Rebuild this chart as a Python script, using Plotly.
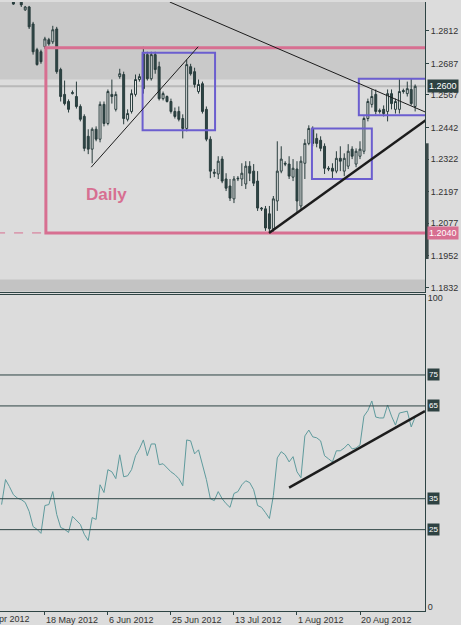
import plotly.graph_objects as go

# ---------------- data ----------------
bar_index = list(range(-11, 95))   # bar positions (Sunday bars included, MT4 style)

opens = [1.3010, 1.3000, 1.3015, 1.2960, 1.2941, 1.2933, 1.2892, 1.2903, 1.2838, 1.2740, 1.2732,
         1.2751, 1.2778, 1.2770, 1.2819, 1.2664, 1.2569, 1.2542, 1.2572, 1.2561, 1.2523,
         1.2485, 1.2409, 1.2360, 1.2436, 1.2398, 1.2531, 1.2458, 1.2569, 1.2512, 1.2637,
         1.2645, 1.2474, 1.2504, 1.2569, 1.2626, 1.2724, 1.2721, 1.2629, 1.2721, 1.2675,
         1.2553, 1.2561, 1.2542, 1.2504, 1.2504, 1.2477, 1.2439, 1.2675, 1.2656, 1.2580,
         1.2610, 1.2512, 1.2398, 1.2272, 1.2265, 1.2322, 1.2246, 1.2219, 1.2170, 1.2249,
         1.2246, 1.2227, 1.2295, 1.2276, 1.2238, 1.2135, 1.2132, 1.2113, 1.2056, 1.2162,
         1.2276, 1.2306, 1.2303, 1.2253, 1.2284, 1.2143, 1.2306, 1.2382, 1.2436, 1.2401,
         1.2394, 1.2371, 1.2287, 1.2287, 1.2276, 1.2325, 1.2276, 1.2295, 1.2360, 1.2303,
         1.2333, 1.2352, 1.2477, 1.2531, 1.2569, 1.2508, 1.2512, 1.2504, 1.2572, 1.2512,
         1.2512, 1.2584, 1.2572, 1.2588, 1.2523]
highs = [1.3030, 1.3025, 1.3020, 1.2975, 1.3006, 1.2945, 1.2907, 1.2907, 1.2846, 1.2747, 1.2740,
         1.2789, 1.2785, 1.2831, 1.2827, 1.2671, 1.2622, 1.2550, 1.2584, 1.2618, 1.2531,
         1.2493, 1.2436, 1.2443, 1.2447, 1.2542, 1.2542, 1.2588, 1.2626, 1.2580, 1.2667,
         1.2656, 1.2512, 1.2588, 1.2645, 1.2648, 1.2751, 1.2732, 1.2732, 1.2732, 1.2694,
         1.2580, 1.2565, 1.2553, 1.2519, 1.2523, 1.2493, 1.2702, 1.2686, 1.2671, 1.2626,
         1.2618, 1.2523, 1.2409, 1.2284, 1.2333, 1.2333, 1.2268, 1.2246, 1.2257, 1.2257,
         1.2306, 1.2314, 1.2314, 1.2303, 1.2276, 1.2139, 1.2143, 1.2143, 1.2181, 1.2390,
         1.2371, 1.2314, 1.2333, 1.2322, 1.2314, 1.2333, 1.2398, 1.2451, 1.2447, 1.2420,
         1.2409, 1.2382, 1.2295, 1.2306, 1.2352, 1.2371, 1.2344, 1.2379, 1.2371, 1.2363,
         1.2390, 1.2485, 1.2553, 1.2588, 1.2588, 1.2515, 1.2527, 1.2588, 1.2588, 1.2553,
         1.2629, 1.2591, 1.2618, 1.2629, 1.2607]
lows = [1.2990, 1.2985, 1.2965, 1.2911, 1.2933, 1.2903, 1.2888, 1.2819, 1.2721, 1.2679, 1.2686,
        1.2743, 1.2755, 1.2762, 1.2648, 1.2542, 1.2527, 1.2500, 1.2569, 1.2515, 1.2466,
        1.2352, 1.2341, 1.2306, 1.2390, 1.2386, 1.2447, 1.2451, 1.2534, 1.2504, 1.2629,
        1.2455, 1.2466, 1.2496, 1.2561, 1.2618, 1.2572, 1.2622, 1.2622, 1.2648, 1.2546,
        1.2546, 1.2538, 1.2496, 1.2477, 1.2466, 1.2401, 1.2428, 1.2641, 1.2595, 1.2572,
        1.2496, 1.2390, 1.2249, 1.2253, 1.2246, 1.2230, 1.2200, 1.2162, 1.2154, 1.2238,
        1.2219, 1.2208, 1.2238, 1.2219, 1.2124, 1.2124, 1.2048, 1.2037, 1.2044, 1.2124,
        1.2268, 1.2295, 1.2246, 1.2238, 1.2116, 1.2132, 1.2246, 1.2375, 1.2371, 1.2367,
        1.2352, 1.2265, 1.2276, 1.2246, 1.2268, 1.2276, 1.2257, 1.2284, 1.2322, 1.2291,
        1.2322, 1.2341, 1.2466, 1.2519, 1.2493, 1.2496, 1.2485, 1.2466, 1.2512, 1.2496,
        1.2496, 1.2572, 1.2561, 1.2527, 1.2504]
closes = [1.3000, 1.3015, 1.2975, 1.2914, 1.2990, 1.2911, 1.2903, 1.2827, 1.2732, 1.2683, 1.2694,
          1.2781, 1.2762, 1.2816, 1.2656, 1.2561, 1.2534, 1.2512, 1.2576, 1.2523, 1.2474,
          1.2363, 1.2360, 1.2436, 1.2398, 1.2531, 1.2458, 1.2580, 1.2561, 1.2569, 1.2648,
          1.2477, 1.2496, 1.2572, 1.2626, 1.2637, 1.2591, 1.2629, 1.2721, 1.2664, 1.2553,
          1.2572, 1.2542, 1.2504, 1.2485, 1.2474, 1.2439, 1.2683, 1.2648, 1.2607, 1.2607,
          1.2504, 1.2398, 1.2276, 1.2268, 1.2314, 1.2238, 1.2211, 1.2173, 1.2246, 1.2247,
          1.2268, 1.2295, 1.2268, 1.2230, 1.2135, 1.2132, 1.2059, 1.2056, 1.2170, 1.2276,
          1.2322, 1.2303, 1.2257, 1.2287, 1.2162, 1.2314, 1.2382, 1.2439, 1.2382, 1.2382,
          1.2363, 1.2287, 1.2284, 1.2276, 1.2325, 1.2314, 1.2325, 1.2352, 1.2333, 1.2352,
          1.2360, 1.2477, 1.2542, 1.2561, 1.2504, 1.2504, 1.2496, 1.2572, 1.2534, 1.2542,
          1.2580, 1.2580, 1.2591, 1.2534, 1.2600]

rsi = [33.1, 41.2, 38.9, 36.3, 35.2, 34.7, 33.8, 30.9, 26.0, 25.1, 23.8,
       32.8, 33.1, 37.3, 29.9, 25.7, 25.1, 24.1, 29.3, 28.0, 26.7,
       23.5, 21.5, 28.9, 28.3, 39.5, 37.0, 44.4, 43.7, 41.5, 49.2,
       42.1, 42.4, 44.4, 48.9, 51.1, 54.0, 48.9, 52.7, 52.7, 46.0,
       46.3, 45.0, 43.7, 42.8, 41.5, 39.2, 54.0, 53.7, 49.5, 50.8,
       45.7, 41.2, 35.0, 34.4, 37.3, 35.0, 33.4, 32.2, 36.7, 37.3,
       39.5, 40.8, 40.2, 37.9, 32.8, 32.2, 30.5, 28.6, 36.0, 48.2,
       50.2, 49.2, 46.9, 48.6, 43.7, 41.8, 55.3, 57.2, 55.0, 54.7,
       53.7, 48.9, 47.9, 46.9, 50.5, 50.5, 51.4, 52.7, 51.1, 51.4,
       52.4, 61.7, 63.5, 66.6, 61.4, 61.1, 61.1, 65.3, 61.7, 58.8,
       62.7, 63.0, 63.3, 58.2, 61.4]

date_tick_pos = [0, 16, 32, 48, 64, 80]
date_tick_text = ["18 May 2012", "6 Jun 2012", "25 Jun 2012", "13 Jul 2012", "1 Aug 2012", "20 Aug 2012"]
first_date_label = "30 Apr 2012"

price_ticks = [1.2812, 1.2687, 1.2567, 1.2442, 1.2322, 1.2197, 1.2077, 1.1952, 1.1832]
rsi_levels = [75, 65, 35, 25]
current_price = 1.2600
support_level = 1.2040
range_top = 1.2747
shade_top_from = 1.2626
shade_bottom_to = 1.1862

# boxes: (x0, x1, y0, y1)
box_list = [(24.8, 43.2, 1.2728, 1.2432), (67.8, 83.0, 1.2439, 1.2246), (79.7, 97.0, 1.2629, 1.2489)]
# trend lines: (x0, y0, x1, y1, width)
trend_lines = [(11.75, 1.2291, 38.9, 1.2751, 1),
               (31.7, 1.2922, 97.0, 1.2499, 1),
               (56.9, 1.2040, 97.0, 1.2474, 2.5)]
rsi_trend = (62.0, 38.6, 96.5, 63.3)

X_RANGE = [-11.4, 96.5]
PINK = "#d76f91"
BLUE = "#6b5ecf"
DARK = "#2e4444"
BG = "#dcdcdc"

fig = go.Figure()
fig.add_trace(go.Candlestick(
    x=bar_index, open=opens, high=highs, low=lows, close=closes,
    increasing=dict(line=dict(color="#283c3c", width=1), fillcolor="#f2f2f2"),
    decreasing=dict(line=dict(color="#283c3c", width=1), fillcolor="#2e4646"),
    whiskerwidth=0, xaxis="x", yaxis="y", showlegend=False, hoverinfo="skip"))
fig.add_trace(go.Scatter(x=bar_index, y=rsi, mode="lines",
                         line=dict(color="#5e9a9c", width=1),
                         xaxis="x2", yaxis="y2", showlegend=False, hoverinfo="skip"))

shapes = []
# shaded zones
shapes.append(dict(type="rect", xref="x", yref="y", x0=X_RANGE[0] - 1, x1=X_RANGE[1] + 1,
                   y0=shade_top_from, y1=1.31, fillcolor="#c9c9c9", line=dict(width=0), layer="below"))
shapes.append(dict(type="rect", xref="x", yref="y", x0=X_RANGE[0] - 1, x1=X_RANGE[1] + 1,
                   y0=1.17, y1=shade_bottom_to, fillcolor="#c3c3c3", line=dict(width=0), layer="below"))
# bid line
shapes.append(dict(type="line", xref="x", yref="y", x0=X_RANGE[0] - 1, x1=X_RANGE[1] + 1,
                   y0=current_price, y1=current_price, line=dict(color="#b9b9b9", width=2), layer="below"))
# pink range rectangle
shapes.append(dict(type="rect", xref="x", yref="y", x0=0.25, x1=X_RANGE[1] + 2,
                   y0=support_level, y1=range_top, line=dict(color=PINK, width=3), layer="above"))
shapes.append(dict(type="line", xref="x", yref="y", x0=X_RANGE[0] - 1, x1=0.25,
                   y0=support_level, y1=support_level, line=dict(color=PINK, width=1, dash="dash")))
for (bx0, bx1, by0, by1) in box_list:
    shapes.append(dict(type="rect", xref="x", yref="y", x0=bx0, x1=bx1, y0=by0, y1=by1,
                       line=dict(color=BLUE, width=2)))
for (lx0, ly0, lx1, ly1, lw) in trend_lines:
    shapes.append(dict(type="line", xref="x", yref="y", x0=lx0, y0=ly0, x1=lx1, y1=ly1,
                       line=dict(color="#1c1c1c", width=lw)))
for lv in rsi_levels:
    shapes.append(dict(type="line", xref="x2", yref="y2", x0=X_RANGE[0] - 1, x1=X_RANGE[1] + 1,
                       y0=lv, y1=lv, line=dict(color=DARK, width=1)))
shapes.append(dict(type="line", xref="x2", yref="y2", x0=rsi_trend[0], y0=rsi_trend[1],
                   x1=rsi_trend[2], y1=rsi_trend[3], line=dict(color="#1c1c1c", width=2.5)))
# dark marker bar on the price scale
shapes.append(dict(type="line", xref="paper", yref="paper", x0=1.005, x1=1.005,
                   y0=0.578, y1=0.768, line=dict(color="#3a4848", width=3)))

annotations = []
annotations.append(dict(text="Daily", x=15.7, y=1.2185, xref="x", yref="y", showarrow=False,
                        font=dict(family="Liberation Sans", size=17, color=PINK, weight="bold")))
annotations.append(dict(text=f"{current_price:.4f}", x=1, y=current_price, xref="paper", yref="y",
                        xanchor="left", xshift=2, showarrow=False, bgcolor="#2e4242",
                        font=dict(family="Liberation Sans", size=9, color="white"), borderpad=1))
annotations.append(dict(text=f"{support_level:.4f}", x=1, y=support_level, xref="paper", yref="y",
                        xanchor="left", xshift=2, showarrow=False, bgcolor=PINK,
                        font=dict(family="Liberation Sans", size=9, color="white"), borderpad=1))
for lv in rsi_levels:
    annotations.append(dict(text=str(lv), x=1, y=lv, xref="paper", yref="y2", xanchor="left",
                            xshift=2, showarrow=False, bgcolor="#2e4242",
                            font=dict(family="Liberation Sans", size=8, color="white"), borderpad=1))
annotations.append(dict(text=first_date_label, x=-21 / 425, y=0, xref="paper", yref="paper",
                        xanchor="left", yanchor="top", yshift=-1, showarrow=False,
                        font=dict(family="Liberation Sans", size=9, color="#333333")))

fig.update_layout(
    width=461, height=625,
    margin=dict(l=0, r=36, t=0, b=13),
    paper_bgcolor=BG, plot_bgcolor=BG,
    showlegend=False,
    shapes=shapes, annotations=annotations,
    xaxis=dict(domain=[0, 1], anchor="y", range=X_RANGE, showticklabels=False, showgrid=False,
               zeroline=False, showline=True, linecolor=DARK, linewidth=1, ticks="",
               rangeslider=dict(visible=False), matches="x2"),
    yaxis=dict(domain=[0.5245, 1], anchor="x", side="right", range=[1.1816, 1.2922],
               tickvals=price_ticks, ticktext=[f"{v:.4f}" for v in price_ticks],
               ticks="outside", ticklen=3, tickcolor=DARK, showgrid=False, zeroline=False,
               showline=True, linecolor=DARK, linewidth=1,
               tickfont=dict(family="Liberation Sans", size=9, color="#333333")),
    xaxis2=dict(domain=[0, 1], anchor="y2", range=X_RANGE, tickvals=date_tick_pos,
                ticktext=date_tick_text, ticklabelposition="outside right", ticks="outside",
                ticklen=3, tickcolor=DARK, showgrid=False, zeroline=False, showline=True,
                mirror=True, linecolor=DARK, linewidth=1,
                tickfont=dict(family="Liberation Sans", size=9, color="#333333")),
    yaxis2=dict(domain=[0, 0.5196], anchor="x2", side="right", range=[-1.3, 101],
                tickvals=[0, 100], ticktext=["0", "100"], ticks="", showgrid=False,
                zeroline=False, showline=True, linecolor=DARK, linewidth=1,
                tickfont=dict(family="Liberation Sans", size=9, color="#333333")),
)

fig.write_html("out.html")
